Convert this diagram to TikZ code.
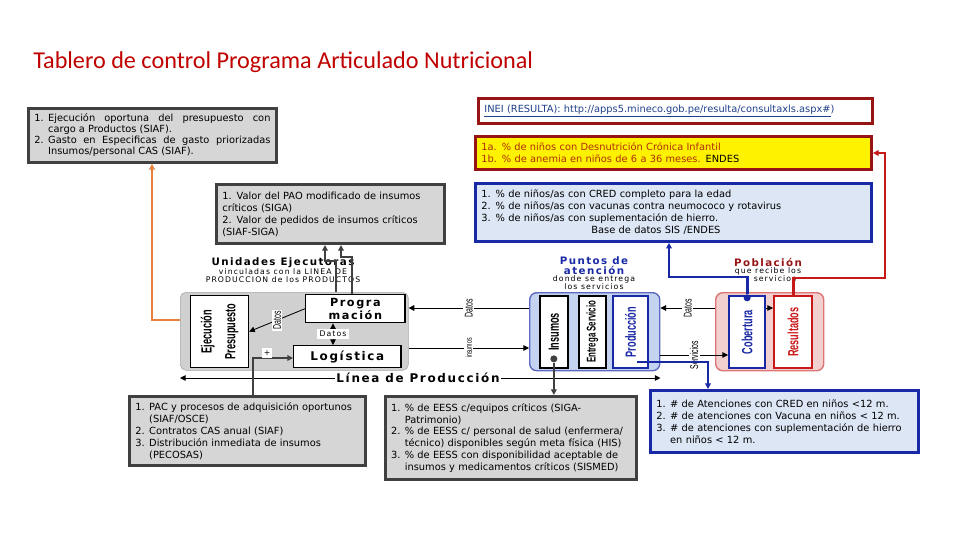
\documentclass[tikz,border=0pt]{standalone}
\usepackage{fontspec}
\setmainfont{DejaVu Sans}
\newfontfamily\titlefont{Carlito}
\newfontfamily\narrowfont[FakeStretch=0.62]{Liberation Sans}
\newfontfamily\spacedfont[LetterSpace=14]{DejaVu Sans}
\usepackage{xcolor}
\usepackage{tikz}
\usetikzlibrary{arrows.meta,positioning,calc}
\definecolor{titlered}{RGB}{192,0,0}
\definecolor{boxgray}{RGB}{214,214,214}
\definecolor{boxedge}{RGB}{64,64,64}
\definecolor{linkblue}{RGB}{31,64,140}
\definecolor{darkred}{RGB}{150,20,20}
\definecolor{ytext}{RGB}{175,45,10}
\definecolor{paleblue}{RGB}{220,230,244}
\definecolor{indblue}{RGB}{25,40,165}
\definecolor{ptsblue}{RGB}{196,212,240}
\definecolor{pobpink}{RGB}{242,208,208}
\definecolor{pobred}{RGB}{200,25,25}
\definecolor{uegray}{RGB}{208,208,208}
\definecolor{oraline}{RGB}{230,130,60}
\newcommand\hitem[2]{\hangindent=1.4em\hangafter=1\noindent\makebox[1.4em][l]{#1}#2\par}

\begin{document}
\begin{tikzpicture}[x=0.025cm, y=-0.025cm,
  ind/.style   = {draw=boxedge, line width=2pt, fill=boxgray, anchor=north west,
                  inner sep=4pt, align=left, font=\fontsize{7}{8.5}\selectfont},
  bluind/.style = {ind, draw=indblue, fill=paleblue},
  vbox/.style  = {draw=black, line width=0.8pt, fill=white, anchor=north west,
                  inner sep=0pt},
  vlbl/.style  = {rotate=90, align=center, inner sep=0pt,
                  font=\narrowfont\bfseries\fontsize{10.5}{17}\selectfont},
  rotlbl/.style = {rotate=90, fill=white, inner sep=1pt,
                   font=\narrowfont\fontsize{8}{8}\selectfont},
  hlbl/.style  = {fill=white, inner sep=1.5pt, font=\spacedfont\fontsize{5.5}{6}\selectfont},
  grp/.style   = {inner sep=0pt, font=\spacedfont\fontsize{5.5}{6}\selectfont},
  grphd/.style = {inner sep=0pt, font=\spacedfont\bfseries\fontsize{7.3}{8}\selectfont},
  conn/.style  = {draw=boxedge, line width=1.3pt},
  thinc/.style = {draw=black, line width=0.6pt},
  blueline/.style = {draw=indblue, line width=2pt},
  redline/.style  = {draw=pobred, line width=2pt},
  tip/.style   = {-{Triangle[length=4pt,width=4pt]}},
  dot/.style   = {circle, inner sep=0pt, minimum size=5pt},
]
\useasboundingbox (0,0) rectangle (960,540);

%% ── Title ────────────────────────────────────────────────────────────────────
\node[anchor=west, inner sep=0pt, text=titlered,
      font=\titlefont\fontsize{17.2}{20}\selectfont] (title) at (33,62)
  {Tablero de control Programa Articulado Nutricional};

%% ── Indicator boxes (top) ────────────────────────────────────────────────────
\node[ind, align=justify, font=\fontsize{7}{7.8}\selectfont,
      minimum width=6.2cm, minimum height=1.33cm, text width=5.9cm] (ind1) at (27,107)
  {\hitem{1.}{Ejecución oportuna del presupuesto con\linebreak cargo a Productos (SIAF).}%
   \hitem{2.}{Gasto en Especificas de gasto priorizadas\linebreak Insumos/personal CAS (SIAF).}};

\node[ind, draw=darkred, fill=white, text=linkblue,
      minimum width=9.85cm, minimum height=0.63cm, text width=9.55cm] (inei) at (477,97)
  {\underline{INEI (RESULTA): http://apps5.mineco.gob.pe/resulta/consultaxls.aspx\#})};

\node[ind, draw=darkred, fill=yellow, text=ytext,
      minimum width=9.9cm, minimum height=0.83cm, text width=9.6cm] (ind2) at (474,135)
  {1a. \% de niños con Desnutrición Crónica Infantil\\
   1b. \% de anemia en niños de 6 a 36 meses. \textcolor{black}{ENDES}};

\node[ind, minimum width=5.7cm, minimum height=1.48cm, text width=5.4cm] (ind3) at (215,183)
  {1. Valor del PAO modificado de insumos\\ críticos (SIGA)\\
   2. Valor de pedidos de insumos críticos\\ (SIAF-SIGA)};

\node[bluind, minimum width=9.9cm, minimum height=1.45cm, text width=9.6cm] (ind4) at (474,182)
  {1. \% de niños/as con CRED completo para la edad\\
   2. \% de niños/as con vacunas contra neumococo y rotavirus\\
   3. \% de niños/as con suplementación de hierro.\\
   \hspace*{2.75cm}Base de datos SIS /ENDES};

%% ── Indicator boxes (bottom) ─────────────────────────────────────────────────
\node[ind, minimum width=5.9cm, minimum height=1.73cm, text width=5.6cm] (ind5) at (128,395)
  {\hitem{1.}{PAC y procesos de adquisición oportunos\newline (SIAF/OSCE)}%
   \hitem{2.}{Contratos CAS anual (SIAF)}%
   \hitem{3.}{Distribución inmediata de insumos\newline (PECOSAS)}};

\node[ind, minimum width=6.23cm, minimum height=2.08cm, text width=6.0cm] (ind6) at (384,395)
  {\hitem{1.}{\% de EESS c/equipos críticos (SIGA-\newline Patrimonio)}%
   \hitem{2.}{\% de EESS c/ personal de salud (enfermera/\newline técnico) disponibles según meta física (HIS)}%
   \hitem{3.}{\% de EESS con disponibilidad aceptable de\newline insumos y medicamentos críticos (SISMED)}};

\node[bluind, minimum width=6.7cm, minimum height=1.55cm, text width=6.4cm] (ind7) at (649,389)
  {\hitem{1.}{\# de Atenciones con CRED en niños <12 m.}%
   \hitem{2.}{\# de atenciones con Vacuna en niños < 12 m.}%
   \hitem{3.}{\# de atenciones con suplementación de hierro\newline en niños < 12 m.}};

%% ── Unidades Ejecutoras ──────────────────────────────────────────────────────
\node[grphd] (ueT1) at (283,263) {Unidades Ejecutoras};
\node[grp]   (ueT2) at (283,272) {vinculadas con la LINEA DE};
\node[grp]   (ueT3) at (283,280) {PRODUCCION de los PRODUCTOS};

\node[draw=gray!70, fill=uegray, rounded corners=4pt, anchor=north west,
      minimum width=5.7cm, minimum height=1.95cm] (ue) at (180,292) {};
\node[vbox, minimum width=1.45cm, minimum height=1.8cm] (ejec) at (190,295) {};
\node[vlbl] (ejecLbl) at (ejec.center) {Ejecución\\Presupuesto};
\node[vbox, line width=1pt, minimum width=2.48cm, minimum height=0.7cm, align=center,
      font=\spacedfont\bfseries\fontsize{8}{9}\selectfont] (prog) at (305,294) {Progra\\mación};
\node[vbox, line width=1pt, minimum width=2.68cm, minimum height=0.55cm,
      font=\spacedfont\bfseries\fontsize{8.5}{9}\selectfont] (log) at (293,345) {Logística};

\draw[thinc, tip] (prog.west) -- node[rotlbl] (datA) {Datos} (ejec.east);
\coordinate (datB) at (333,0);
\draw[thinc, {Triangle[length=4pt,width=4pt]}-{Triangle[length=4pt,width=4pt]}]
  (prog.south -| datB) -- node[hlbl] (datBLbl) {Datos} (log.north -| datB);

%% ── Puntos de atención ───────────────────────────────────────────────────────
\node[grphd, text=indblue] (ptsT1) at (594,261) {Puntos de};
\node[grphd, text=indblue] (ptsT2) at (594,270) {atención};
\node[grp] (ptsT3) at (594,279) {donde se entrega};
\node[grp] (ptsT4) at (594,287) {los servicios};

\node[draw=indblue!70, line width=1pt, fill=ptsblue, rounded corners=5pt, anchor=north west,
      minimum width=3.25cm, minimum height=1.95cm] (pts) at (529,292) {};
\node[vbox, line width=1.2pt, minimum width=0.7cm, minimum height=1.8cm] (ins) at (539,295) {};
\node[vlbl] (insLbl) at (ins.center) {Insumos};
\node[vbox, line width=1.2pt, minimum width=0.68cm, minimum height=1.8cm] (ent) at (578,295) {};
\node[vlbl, font=\narrowfont\bfseries\fontsize{9}{10}\selectfont] (entLbl) at (ent.center) {Entrega Servicio};
\node[vbox, draw=indblue, line width=1.4pt, minimum width=0.88cm, minimum height=1.8cm] (prod) at (612,295) {};
\node[vlbl, text=indblue] (prodLbl) at (prod.center) {Producción};

%% ── Población ────────────────────────────────────────────────────────────────
\node[grphd, text=darkred] (pobT1) at (768,262) {Población};
\node[grp] (pobT2) at (768,271) {que recibe los};
\node[grp] (pobT3) at (775,279) {servicios};

\node[draw=pobred!60, line width=1pt, fill=pobpink, rounded corners=5pt, anchor=north west,
      minimum width=2.7cm, minimum height=1.95cm] (pob) at (715,292) {};
\node[vbox, draw=indblue, line width=1.6pt, minimum width=0.9cm, minimum height=1.8cm] (cob) at (728,295) {};
\node[vlbl, text=indblue] (cobLbl) at (cob.center) {Cobertura};
\node[vbox, draw=pobred, line width=1.6pt, minimum width=0.95cm, minimum height=1.8cm] (res) at (773,295) {};
\node[vlbl, text=pobred] (resLbl) at (res.center) {Resultados};

%% ── Línea de Producción ──────────────────────────────────────────────────────
\node[inner sep=1pt, font=\spacedfont\bfseries\fontsize{8.5}{9}\selectfont] (lp) at (418,378)
  {Línea de Producción};
\draw[thinc, tip] (lp.west) -- (ue.west |- lp.west);
\draw[thinc, tip] (lp.east) -- (pts.east |- lp.east);

%% ── Flows between blocks ─────────────────────────────────────────────────────
\coordinate (rD) at (0,308);
\coordinate (rI) at (0,348);
\coordinate (rS) at (0,355);
\draw[thinc, tip] (pts.west |- rD) -- node[rotlbl] (datC) {Datos} (ue.east |- rD);
\draw[thinc, tip] (ue.east |- rI) -- node[rotlbl, font=\narrowfont\fontsize{6}{6}\selectfont] (insC) {insumos} (pts.west |- rI);
\draw[thinc, tip] (pob.west |- rD) -- node[rotlbl] (datD) {Datos} (pts.east |- rD);
\draw[thinc, tip] (pts.east |- rS) -- node[rotlbl] (srvD) {Servicios} (cob.west |- rS);
\draw[thinc, tip] (cob.east |- rD) -- (res.west |- rD);

%% ── Connectors to indicator boxes ────────────────────────────────────────────
\coordinate (oraA) at (152,320);
\draw[draw=oraline, line width=1.4pt, tip] (ue.west |- oraA) -- (oraA) -- (oraA |- ind1.south);

\coordinate (jA) at (336,261);
\coordinate (jA2) at (325,261);
\draw[conn, tip] (ue.north -| jA) -- (jA) -- (jA2) -- (jA2 |- ind3.south);
\coordinate (jB) at (352,257);
\coordinate (jB2) at (341,257);
\draw[conn, tip] (prog.north -| jB) -- (jB) -- (jB2) -- (jB2 |- ind3.south);

\coordinate (logA) at (253,358);
\draw[conn, tip] (logA |- ind5.north) -- (logA) -- (log.west |- logA);
\node[hlbl] (plusLbl) at (267,353) {+};

\node[dot, fill=boxedge] (insDot) at ([yshift=7pt]ins.south) {};
\draw[conn, tip] (insDot) -- (insDot |- ind6.north);

\node[dot, fill=indblue] (cobDot) at ([yshift=-2pt]cob.north) {};
\coordinate (blueA) at (669,277);
\draw[blueline, tip] (cobDot) |- (blueA) -- (blueA |- ind4.south);

\coordinate (prodA) at (637,362);
\coordinate (prodB) at (708,362);
\draw[blueline, tip] (prodA) -- (prodB) -- (prodB |- ind7.north);

\coordinate (redA) at (885,278);
\draw[redline, tip] (res.north) |- (redA) |- (ind2.east);

\end{tikzpicture}
\end{document}
